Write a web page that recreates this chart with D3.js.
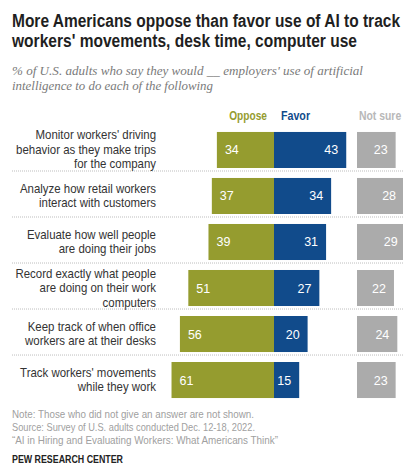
<!DOCTYPE html>
<html lang="en">
<head>
<meta charset="UTF-8">
<title>AI tracking workers</title>
<script src="https://d3js.org/d3.v7.min.js"></script>
<style>
  body { margin: 0; background: #fff; }
  svg { display: block; font-family: Arial, "Liberation Sans", sans-serif; }
</style>
</head>
<body>
<div id="chart"></div>
<script>
(function(d3) {
  'use strict';

  var categoryLines = [
    ["Monitor workers' driving", "behavior as they make trips", "for the company"],
    ["Analyze how retail workers", "interact with customers"],
    ["Evaluate how well people", "are doing their jobs"],
    ["Record exactly what people", "are doing on their work", "computers"],
    ["Keep track of when office", "workers are at their desks"],
    ["Track workers' movements", "while they work"]
  ];
  var oppose = [34, 37, 39, 51, 56, 61];
  var favor = [43, 34, 31, 27, 20, 15];
  var notSure = [23, 28, 29, 22, 24, 23];

  var titleLines = [
    "More Americans oppose than favor use of AI to track",
    "workers' movements, desk time, computer use"
  ];
  var subtitleLines = [
    "% of U.S. adults who say they would __ employers' use of artificial",
    "intelligence to do each of the following"
  ];
  var noteLines = [
    "Note: Those who did not give an answer are not shown.",
    "Source: Survey of U.S. adults conducted Dec. 12-18, 2022.",
    "\u201cAI in Hiring and Evaluating Workers: What Americans Think\u201d"
  ];

  var width = 403, height = 468;
  var olive = '#959c2f', blue = '#114b8b', grey = '#ababab';

  var svg = d3.select('#chart').append('svg')
    .attr('width', width)
    .attr('height', height);

  // squeeze text horizontally to mimic the condensed Franklin Gothic look
  function condense(sel, k) {
    sel.each(function() {
      var w = this.getComputedTextLength();
      d3.select(this).attr('textLength', w * k).attr('lengthAdjust', 'spacingAndGlyphs');
    });
  }
  function fitTo(sel, w) {
    sel.attr('textLength', w).attr('lengthAdjust', 'spacingAndGlyphs');
  }

  // title
  var titleWidths = [388, 345];
  titleLines.forEach(function(t, i) {
    svg.append('text')
      .attr('x', 12).attr('y', 27 + i * 20)
      .attr('font-size', 18).attr('font-weight', 'bold').attr('fill', '#1f1f1f')
      .text(t)
      .call(fitTo, titleWidths[i]);
  });

  // subtitle
  var subWidths = [351, 201];
  subtitleLines.forEach(function(t, i) {
    svg.append('text')
      .attr('x', 12).attr('y', 75 + i * 15)
      .attr('font-family', '"Liberation Serif", "DejaVu Serif", serif')
      .attr('font-style', 'italic').attr('font-size', 13.5).attr('fill', '#7a7a7a')
      .text(t)
      .call(fitTo, subWidths[i]);
  });

  // scales
  var y = d3.scaleBand()
    .domain(d3.range(oppose.length))
    .range([127, 403])
    .paddingInner(0.217)
    .paddingOuter(0.108);
  var x = d3.scaleLinear().domain([-100, 100]).range([274 - 168, 274 + 168]);
  var xn = d3.scaleLinear().domain([0, 100]).range([357, 357 + 168]);

  // column headers
  svg.append('text').attr('x', 267).attr('y', 120).attr('text-anchor', 'end')
    .attr('font-size', 13).attr('font-weight', 'bold').attr('fill', olive)
    .text('Oppose').call(condense, 0.78);
  svg.append('text').attr('x', 281).attr('y', 120)
    .attr('font-size', 13).attr('font-weight', 'bold').attr('fill', blue)
    .text('Favor').call(condense, 0.82);
  svg.append('text').attr('x', 359).attr('y', 120)
    .attr('font-size', 13).attr('font-weight', 'bold').attr('fill', '#b8b8b8')
    .text('Not sure').call(condense, 0.8);

  // dotted separators
  var step = y.step();
  svg.append('g').selectAll('line')
    .data(d3.range(oppose.length - 1))
    .enter().append('line')
    .attr('x1', 12).attr('x2', width)
    .attr('y1', function(i) { return 127 + step * (i + 1) - 2; })
    .attr('y2', function(i) { return 127 + step * (i + 1) - 2; })
    .attr('stroke', '#bdbdbd').attr('stroke-width', 1)
    .attr('stroke-dasharray', '1,1');

  var rows = svg.append('g').selectAll('g')
    .data(d3.range(oppose.length))
    .enter().append('g');

  // category labels
  rows.each(function(i) {
    var lines = categoryLines[i];
    var cy = y(i) + y.bandwidth() / 2 + 4;
    var g = d3.select(this);
    lines.forEach(function(t, j) {
      g.append('text')
        .attr('x', 156)
        .attr('y', cy + (j - (lines.length - 1) / 2) * 14.5)
        .attr('text-anchor', 'end')
        .attr('font-size', 13).attr('fill', '#333')
        .text(t)
        .call(condense, 0.88);
    });
  });

  // bars
  rows.append('rect')
    .attr('x', function(i) { return x(-oppose[i]); })
    .attr('y', function(i) { return y(i); })
    .attr('width', function(i) { return x(0) - x(-oppose[i]); })
    .attr('height', y.bandwidth())
    .attr('fill', olive);
  rows.append('rect')
    .attr('x', x(0))
    .attr('y', function(i) { return y(i); })
    .attr('width', function(i) { return x(favor[i]) - x(0); })
    .attr('height', y.bandwidth())
    .attr('fill', blue);
  rows.append('rect')
    .attr('x', xn(0))
    .attr('y', function(i) { return y(i); })
    .attr('width', function(i) { return xn(notSure[i]) - xn(0); })
    .attr('height', y.bandwidth())
    .attr('fill', grey);

  // value labels
  var midY = function(i) { return y(i) + y.bandwidth() / 2 + 4.5; };
  rows.append('text')
    .attr('x', function(i) { return x(-oppose[i]) + 8; })
    .attr('y', midY)
    .attr('font-size', 12.5).attr('fill', '#fff')
    .text(function(i) { return oppose[i]; });
  rows.append('text')
    .attr('x', function(i) { return x(favor[i]) - 8; })
    .attr('y', midY)
    .attr('text-anchor', 'end')
    .attr('font-size', 12.5).attr('fill', '#fff')
    .text(function(i) { return favor[i]; });
  rows.append('text')
    .attr('x', function(i) { return xn(notSure[i]) - 8; })
    .attr('y', midY)
    .attr('text-anchor', 'end')
    .attr('font-size', 12.5).attr('fill', '#fff')
    .text(function(i) { return notSure[i]; });

  // footer
  var noteWidths = [242, 243, 266];
  noteLines.forEach(function(t, i) {
    svg.append('text')
      .attr('x', 12).attr('y', 418 + i * 13)
      .attr('font-size', 11).attr('fill', '#a0a0a0')
      .text(t)
      .call(fitTo, noteWidths[i]);
  });
  svg.append('text')
    .attr('x', 12).attr('y', 463)
    .attr('font-size', 11).attr('font-weight', 'bold').attr('fill', '#222')
    .text('PEW RESEARCH CENTER')
    .call(fitTo, 111);

})(window.d3);
</script>
</body>
</html>
